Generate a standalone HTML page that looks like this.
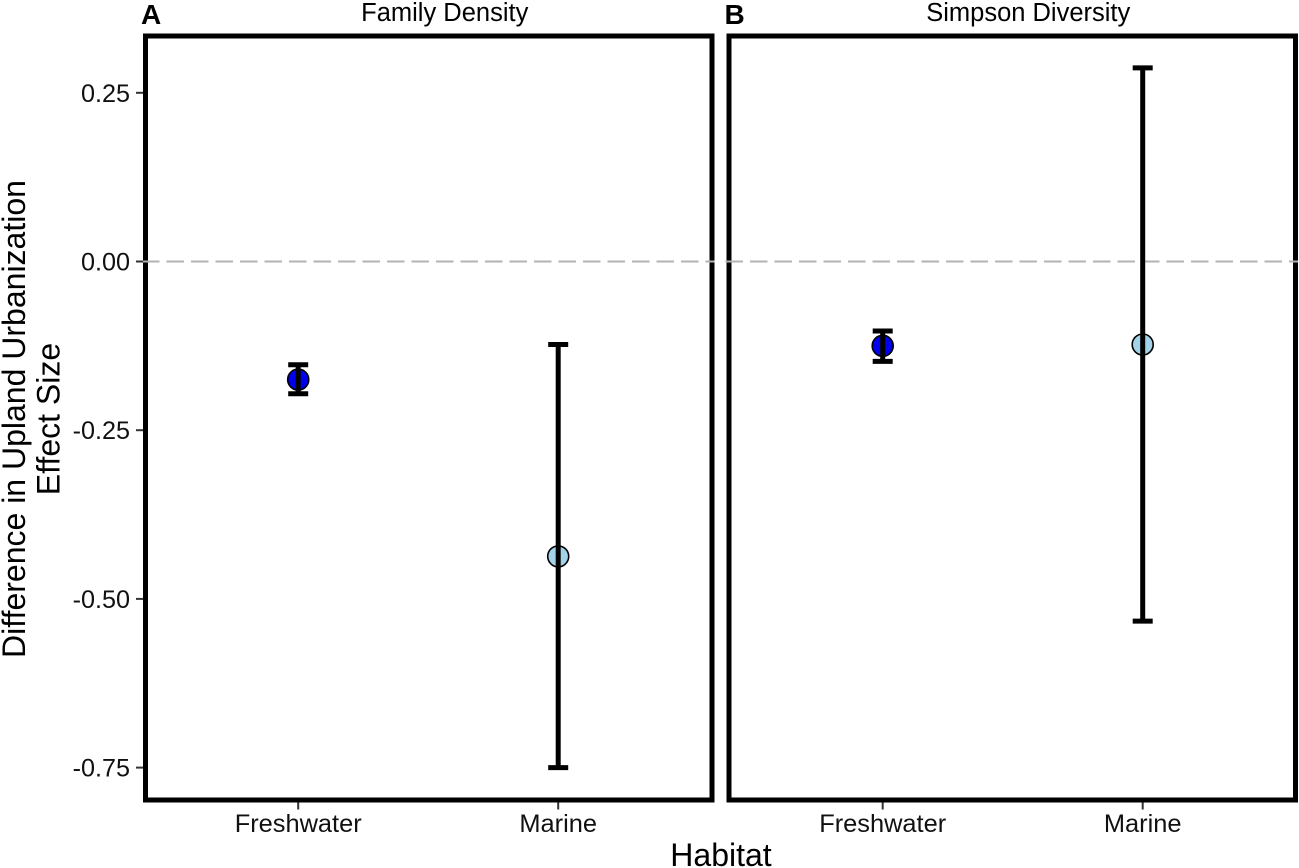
<!DOCTYPE html>
<html>
<head>
<meta charset="utf-8">
<title>Difference in Upland Urbanization Effect Size</title>
<style>
html,body{margin:0;padding:0;background:#fff;}
svg{display:block;font-family:"Liberation Sans",Arial,sans-serif;}
</style>
</head>
<body>
<svg id="chart" xmlns="http://www.w3.org/2000/svg" width="1299" height="868" viewBox="0 0 1299 868">
  <rect x="0" y="0" width="1299" height="868" fill="#ffffff"/>
  <text transform="translate(25 419) rotate(-90)" text-anchor="middle" font-size="32" fill="#000">Difference in Upland Urbanization</text>
  <text transform="translate(59.5 419) rotate(-90)" text-anchor="middle" font-size="32" fill="#000">Effect Size</text>
  <text x="721" y="866" text-anchor="middle" font-size="32" fill="#000">Habitat</text>
</svg>
<script>
const categories = ['Freshwater', 'Marine'];
const panelNames = ['Family Density', 'Simpson Diversity'];
const panelTags = ['A', 'B'];
const yTicks = [0.25, 0, -0.25, -0.5, -0.75];
const yTickLabels = ['0.25', '0.00', '-0.25', '-0.50', '-0.75'];
const familyEstimate = [-0.175, -0.437];
const familyLower = [-0.196, -0.75];
const familyUpper = [-0.153, -0.123];
const simpsonEstimate = [-0.125, -0.123];
const simpsonLower = [-0.148, -0.533];
const simpsonUpper = [-0.103, 0.287];
const pointColors = ['#0000ee', '#a3d3e8'];

const estimates = [familyEstimate, simpsonEstimate];
const lowers = [familyLower, simpsonLower];
const uppers = [familyUpper, simpsonUpper];

const svg = document.getElementById('chart');
const NS = 'http://www.w3.org/2000/svg';

function make(tag, attrs, text) {
  const el = document.createElementNS(NS, tag);
  for (const k in attrs) el.setAttribute(k, attrs[k]);
  if (text !== undefined) el.textContent = text;
  svg.appendChild(el);
  return el;
}
function yScale(v) { return 261.5 - v * 674.8; }
function xScale(panelLeft, i) { return panelLeft + 155.2 + i * 260; }

const panelLefts = [143, 727.5];
const panelWidth = 571.5;
const panelTop = 33.5;
const panelBottom = 802.5;
const border = 5;
const barWidth = 5;

panelLefts.forEach(function (left, p) {
  const slug = p === 0 ? 'family-density' : 'simpson-diversity';
  const boxLeft = p === 0 ? left : left - 1;

  const frame = make('rect', {
    x: boxLeft + border / 2, y: panelTop + border / 2,
    width: panelWidth - border, height: panelBottom - panelTop - border,
    fill: 'none', stroke: '#000', 'stroke-width': border
  });
  
  

  const title = make('text', {
    x: boxLeft + panelWidth / 2 + 16, y: 21, 'text-anchor': 'middle',
    'font-size': 25.5, fill: '#000'
  }, panelNames[p]);
  
  

  const tag = make('text', {
    x: boxLeft - 2, y: 24, 'font-size': 28, 'font-weight': 'bold', fill: '#000'
  }, panelTags[p]);
  
  

  const zero = make('line', {
    x1: boxLeft - 1, x2: boxLeft + panelWidth, y1: yScale(0), y2: yScale(0),
    stroke: '#b3b3b3', 'stroke-width': 2, 'stroke-dasharray': '17.5 7'
  });
  
  

  categories.forEach(function (cat, i) {
    const cx = xScale(left, i);
    const catSlug = slug + '-' + cat.toLowerCase();

    const tick = make('line', {
      x1: cx, x2: cx, y1: panelBottom, y2: 809.5, stroke: '#333', 'stroke-width': 2
    });
    
    

    const label = make('text', {
      x: cx, y: 832, 'text-anchor': 'middle', 'font-size': 25.4, fill: '#111'
    }, cat);
    
    

    const point = make('circle', {
      cx: cx, cy: yScale(estimates[p][i]), r: 10.5,
      fill: pointColors[i], stroke: '#000', 'stroke-width': 1.6
    });
    
    

    const stem = make('line', {
      x1: cx, x2: cx, y1: yScale(uppers[p][i]), y2: yScale(lowers[p][i]),
      stroke: '#000', 'stroke-width': barWidth
    });
    
    

    const capTop = make('line', {
      x1: cx - 10, x2: cx + 10, y1: yScale(uppers[p][i]), y2: yScale(uppers[p][i]),
      stroke: '#000', 'stroke-width': barWidth
    });
    
    

    const capBottom = make('line', {
      x1: cx - 10, x2: cx + 10, y1: yScale(lowers[p][i]), y2: yScale(lowers[p][i]),
      stroke: '#000', 'stroke-width': barWidth
    });
    
    
  });
});

yTicks.forEach(function (v, i) {
  const t = make('line', {
    x1: 136, x2: 143, y1: yScale(v), y2: yScale(v), stroke: '#333', 'stroke-width': 2
  });
  
  

  const l = make('text', {
    x: 130, y: yScale(v) + 9, 'text-anchor': 'end', 'font-size': 25.2, fill: '#111'
  }, yTickLabels[i]);
  
  
});
</script>
</body>
</html>
